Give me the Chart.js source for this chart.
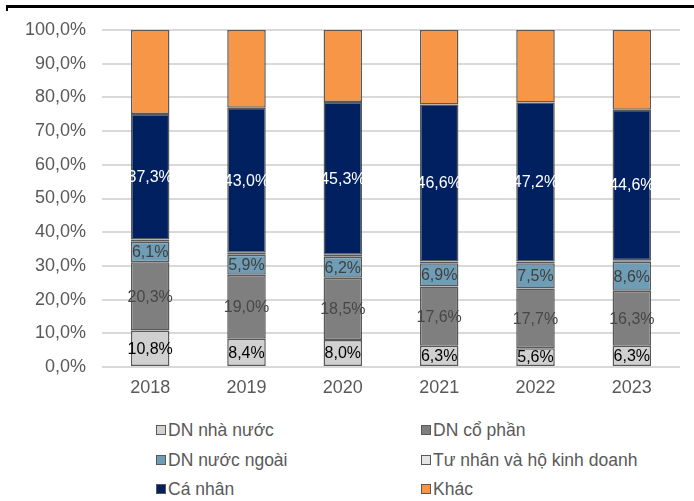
<!DOCTYPE html>
<html>
<head>
<meta charset="utf-8">
<script src="https://cdn.jsdelivr.net/npm/chart.js@4/dist/chart.umd.min.js"></script>
<style>
  html, body { margin: 0; padding: 0; background: #fff; }
  #wrap { position: relative; width: 694px; height: 501px; overflow: hidden; font-family: "Liberation Sans", Arial, sans-serif; }
  #topline { position: absolute; left: 6px; right: 0; top: 5px; height: 3px; background: #000; }
  #toptick { position: absolute; left: 6px; top: 5px; width: 2px; height: 6px; background: #000; }
  #cv { position: absolute; left: 0; top: 0; }
  .lg { position: absolute; font-size: 17.5px; color: #595959; line-height: 20px; white-space: nowrap; display: flex; align-items: center; }
  .lg i { display: inline-block; width: 8px; height: 8px; border: 1px solid #595959; margin-right: 2px; }
</style>
</head>
<body>
<div id="wrap">
  <div id="topline"></div>
  <div id="toptick"></div>
  <canvas id="cv" width="694" height="410"></canvas>
  <div id="legend"></div>
</div>
<script>
const categories = ["2018", "2019", "2020", "2021", "2022", "2023"];
const seriesNames = ["DN nhà nước", "DN cổ phần", "DN nước ngoài", "Tư nhân và hộ kinh doanh", "Cá nhân", "Khác"];
const dnNhaNuoc = [10.8, 8.4, 8.0, 6.3, 5.6, 6.3];
const dnCoPhan = [20.3, 19.0, 18.5, 17.6, 17.7, 16.3];
const dnNuocNgoai = [6.1, 5.9, 6.2, 6.9, 7.5, 8.6];
const tuNhan = [0.6, 0.6, 0.6, 0.5, 0.5, 0.5];
const caNhan = [37.3, 43.0, 45.3, 46.6, 47.2, 44.6];
const khac = [24.9, 23.1, 21.4, 22.1, 21.5, 23.7];
const yTicks = [0, 10, 20, 30, 40, 50, 60, 70, 80, 90, 100];

const seriesValues = [dnNhaNuoc, dnCoPhan, dnNuocNgoai, tuNhan, caNhan, khac];
const colors = ["#d0d0d0", "#7f7f7f", "#6e9db5", "#e4e4e4", "#002060", "#f79646"];
const labelColors = ["#000000", "#474747", "#404040", null, "#ffffff", null];

const fmt = v => v.toFixed(1).replace('.', ',') + '%';

const labelPlugin = {
  id: 'segLabels',
  afterDatasetsDraw(chart) {
    const ctx = chart.ctx;
    ctx.save();
    ctx.font = '16px "Liberation Sans", Arial, sans-serif';
    ctx.textAlign = 'center';
    ctx.textBaseline = 'middle';
    chart.data.datasets.forEach((ds, di) => {
      if (!ds.labelColor) return;
      const meta = chart.getDatasetMeta(di);
      meta.data.forEach((el, i) => {
        const v = ds.data[i];
        ctx.fillStyle = ds.labelColor;
        ctx.fillText(fmt(v), el.x, (el.y + el.base) / 2 + 1);
      });
    });
    ctx.restore();
  }
};

const chart = new Chart(document.getElementById('cv'), {
  type: 'bar',
  data: {
    labels: categories,
    datasets: seriesNames.map((name, i) => ({
      label: name,
      data: seriesValues[i],
      backgroundColor: colors[i],
      borderColor: '#595959',
      borderWidth: 1.5,
      borderSkipped: false,
      labelColor: labelColors[i],
      barPercentage: 0.4,
      categoryPercentage: 1.0
    }))
  },
  options: {
    responsive: false,
    animation: false,
    layout: { padding: { top: 30, right: 14, left: 0, bottom: 0 } },
    plugins: { legend: { display: false }, tooltip: { enabled: false } },
    scales: {
      x: {
        stacked: true,
        grid: { display: false, drawTicks: false },
        border: { display: false },
        ticks: { color: '#595959', font: { size: 18, family: '"Liberation Sans", Arial, sans-serif' }, padding: 10 },
        afterFit(s) { s.height = 43; }
      },
      y: {
        stacked: true,
        min: 0, max: 100,
        afterBuildTicks(s) { s.ticks = yTicks.map(v => ({ value: v })); },
        grid: { color: '#d9d9d9', lineWidth: 2, drawTicks: false },
        border: { display: false },
        ticks: { color: '#595959', font: { size: 18, family: '"Liberation Sans", Arial, sans-serif' }, padding: 16, callback: v => fmt(v) },
        afterFit(s) { s.width = 102; }
      }
    }
  },
  plugins: [labelPlugin]
});

// HTML legend, 2 columns x 3 rows
const legend = document.getElementById('legend');
const colX = [156, 421];
const rowY = [430, 460, 489];
seriesNames.forEach((name, i) => {
  const d = document.createElement('div');
  d.className = 'lg';
  d.style.left = colX[i % 2] + 'px';
  d.style.top = (rowY[Math.floor(i / 2)] - 10) + 'px';
  const b = document.createElement('i');
  b.style.background = colors[i];
  d.appendChild(b);
  d.appendChild(document.createTextNode(name));
  legend.appendChild(d);
});
</script>
</body>
</html>
